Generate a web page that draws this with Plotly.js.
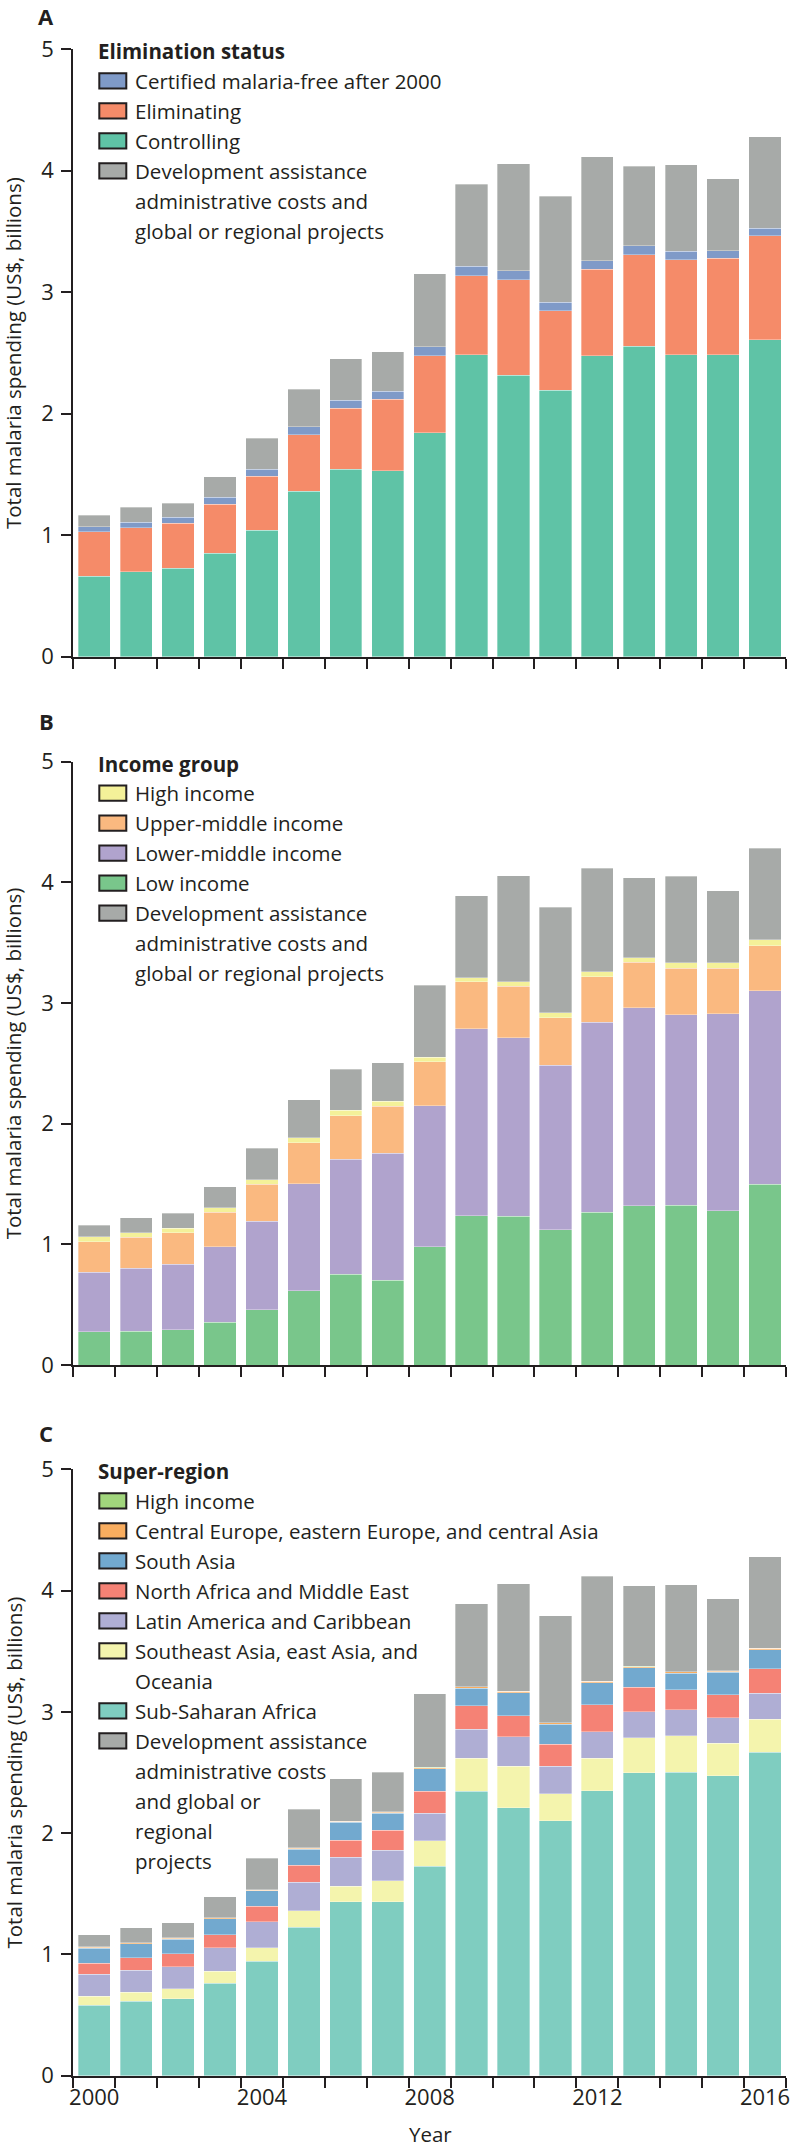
<!DOCTYPE html>
<html>
<head>
<meta charset="utf-8">
<script src="https://cdn.plot.ly/plotly-3.0.1.min.js"></script>
<style>
  html, body { margin: 0; padding: 0; background: #ffffff; }
  #chart { width: 790px; height: 2149px; }
</style>
</head>
<body>
<div id="chart"></div>
<script>
// ---------------- DATA (US$ billions) ----------------
const years = [2000, 2001, 2002, 2003, 2004, 2005, 2006, 2007, 2008, 2009, 2010, 2011, 2012, 2013, 2014, 2015, 2016];
const xTickYears = [2000, 2004, 2008, 2012, 2016];
const yTicks = [0, 1, 2, 3, 4, 5];

// Panel A: elimination status
const elimControlling = [0.664, 0.700, 0.727, 0.853, 1.043, 1.361, 1.545, 1.532, 1.843, 2.485, 2.317, 2.192, 2.479, 2.556, 2.485, 2.485, 2.611];
const elimEliminating = [0.365, 0.362, 0.371, 0.404, 0.444, 0.466, 0.502, 0.586, 0.636, 0.649, 0.784, 0.655, 0.710, 0.753, 0.781, 0.793, 0.854];
const elimCertified   = [0.041, 0.044, 0.049, 0.057, 0.058, 0.066, 0.066, 0.067, 0.071, 0.080, 0.076, 0.070, 0.071, 0.073, 0.070, 0.065, 0.064];
const elimDevAssist   = [0.096, 0.124, 0.115, 0.167, 0.252, 0.310, 0.340, 0.325, 0.603, 0.676, 0.879, 0.875, 0.857, 0.655, 0.714, 0.593, 0.753];

// Panel B: income group
const incLow         = [0.274, 0.279, 0.293, 0.356, 0.458, 0.614, 0.753, 0.704, 0.979, 1.238, 1.232, 1.121, 1.265, 1.318, 1.324, 1.279, 1.500];
const incLowerMiddle = [0.493, 0.524, 0.543, 0.625, 0.734, 0.887, 0.951, 1.049, 1.168, 1.547, 1.480, 1.364, 1.576, 1.641, 1.579, 1.633, 1.600];
const incUpperMiddle = [0.255, 0.257, 0.260, 0.285, 0.304, 0.340, 0.362, 0.392, 0.368, 0.391, 0.429, 0.391, 0.377, 0.379, 0.385, 0.376, 0.376];
const incHigh        = [0.041, 0.036, 0.038, 0.038, 0.041, 0.041, 0.044, 0.039, 0.035, 0.033, 0.035, 0.042, 0.041, 0.038, 0.044, 0.047, 0.048];
const incDevAssist   = [0.096, 0.123, 0.124, 0.175, 0.258, 0.318, 0.342, 0.323, 0.597, 0.679, 0.880, 0.876, 0.859, 0.662, 0.718, 0.597, 0.758];

// Panel C: super-region
const regSubSaharan    = [0.581, 0.614, 0.636, 0.764, 0.942, 1.225, 1.436, 1.436, 1.726, 2.347, 2.211, 2.104, 2.350, 2.498, 2.502, 2.473, 2.669];
const regSoutheastAsia = [0.074, 0.074, 0.079, 0.096, 0.113, 0.134, 0.126, 0.172, 0.211, 0.271, 0.341, 0.221, 0.268, 0.287, 0.299, 0.268, 0.271];
const regLatinAmerica  = [0.183, 0.183, 0.184, 0.195, 0.216, 0.238, 0.238, 0.252, 0.227, 0.240, 0.243, 0.227, 0.218, 0.218, 0.218, 0.212, 0.215];
const regNorthAfrica   = [0.091, 0.102, 0.106, 0.109, 0.126, 0.140, 0.142, 0.162, 0.180, 0.192, 0.173, 0.183, 0.221, 0.202, 0.164, 0.189, 0.201];
const regSouthAsia     = [0.123, 0.115, 0.121, 0.129, 0.126, 0.131, 0.148, 0.142, 0.186, 0.146, 0.190, 0.164, 0.183, 0.158, 0.136, 0.183, 0.158];
const regCentralEurope = [0.008, 0.008, 0.008, 0.008, 0.008, 0.008, 0.008, 0.009, 0.010, 0.010, 0.010, 0.010, 0.011, 0.010, 0.010, 0.010, 0.010];
const regHighIncome    = [0.002, 0.002, 0.002, 0.002, 0.002, 0.002, 0.002, 0.002, 0.002, 0.002, 0.002, 0.002, 0.002, 0.002, 0.002, 0.002, 0.002];
const regDevAssist     = [0.100, 0.124, 0.124, 0.171, 0.259, 0.319, 0.349, 0.326, 0.609, 0.682, 0.887, 0.881, 0.864, 0.663, 0.719, 0.594, 0.755];

// ---------------- STYLE ----------------
const FONT = 'Open Sans, Liberation Sans, sans-serif';
const INK = '#231f20';
const GRAY = '#a7aaa8';
const W = 790, H = 2149;
const px = v => v / W;
const py = v => 1 - v / H;
const TXT = 20.5;
const TICK = 22;

const devLabel = 'Development assistance';

const panels = [
  {
    letter: 'A', title: 'Elimination status', zeroPx: 656.7, fivePx: 49.3, letterY: 16,
    series: [ // bottom to top
      {name: 'Controlling', values: elimControlling, color: '#5fc3a6'},
      {name: 'Eliminating', values: elimEliminating, color: '#f58b69'},
      {name: 'Certified malaria-free after 2000', values: elimCertified, color: '#7f9ac8'},
      {name: devLabel, values: elimDevAssist, color: GRAY}
    ],
    legendOrder: [2, 1, 0, 3],
    devLines: ['Development assistance', 'administrative costs and', 'global or regional projects']
  },
  {
    letter: 'B', title: 'Income group', zeroPx: 1365, fivePx: 761.7, letterY: 721,
    series: [
      {name: 'Low income', values: incLow, color: '#79c68b'},
      {name: 'Lower-middle income', values: incLowerMiddle, color: '#b0a3cd'},
      {name: 'Upper-middle income', values: incUpperMiddle, color: '#fab980'},
      {name: 'High income', values: incHigh, color: '#f4f199'},
      {name: devLabel, values: incDevAssist, color: GRAY}
    ],
    legendOrder: [3, 2, 1, 0, 4],
    devLines: ['Development assistance', 'administrative costs and', 'global or regional projects']
  },
  {
    letter: 'C', title: 'Super-region', zeroPx: 2075.7, fivePx: 1469.3, letterY: 1433,
    series: [
      {name: 'Sub-Saharan Africa', values: regSubSaharan, color: '#7fcdc0'},
      {name: 'Southeast Asia, east Asia, and', values: regSoutheastAsia, color: '#f4f4ad', extra: ['Oceania']},
      {name: 'Latin America and Caribbean', values: regLatinAmerica, color: '#afaed4'},
      {name: 'North Africa and Middle East', values: regNorthAfrica, color: '#f58275'},
      {name: 'South Asia', values: regSouthAsia, color: '#72a9cf'},
      {name: 'Central Europe, eastern Europe, and central Asia', values: regCentralEurope, color: '#f9ad5f'},
      {name: 'High income', values: regHighIncome, color: '#a1d57c'},
      {name: devLabel, values: regDevAssist, color: GRAY}
    ],
    legendOrder: [6, 5, 4, 3, 2, 1, 0, 7],
    devLines: ['Development assistance', 'administrative costs', 'and global or', 'regional', 'projects']
  }
];

const traces = [];
const annotations = [];
const shapes = [];
const layout = {
  width: W, height: H,
  margin: {l: 0, r: 0, t: 0, b: 0, pad: 0},
  paper_bgcolor: '#ffffff', plot_bgcolor: '#ffffff',
  barmode: 'stack', bargap: 0.23,
  showlegend: false,
  font: {family: FONT, size: TXT, color: INK}
};

const xDomain = [px(73.3), px(786)];

panels.forEach((p, i) => {
  const n = i === 0 ? '' : String(i + 1);
  const xKey = 'x' + n, yKey = 'y' + n;
  p.series.forEach(s => {
    traces.push({
      type: 'bar', x: years, y: s.values, name: s.name,
      xaxis: xKey, yaxis: yKey,
      marker: {color: s.color, line: {color: 'rgba(255,255,255,0.55)', width: 0.6}},
      hoverinfo: 'x+y+name'
    });
  });
  const isLast = i === panels.length - 1;
  layout['xaxis' + n] = {
    domain: xDomain, anchor: yKey,
    range: [1999.5, 2016.5], fixedrange: true,
    showline: true, linecolor: INK, linewidth: 2,
    showgrid: false, zeroline: false,
    tickmode: 'array', tickvals: xTickYears, ticktext: xTickYears.map(String),
    ticks: 'outside', ticklen: 1, tickcolor: 'rgba(0,0,0,0)',
    showticklabels: isLast, ticklabeloverflow: 'allow',
    tickfont: {family: FONT, size: TICK, color: INK},
    minor: {ticks: 'outside', ticklen: 10, tickwidth: 2, tickcolor: INK,
            tickmode: 'linear', tick0: 1999.5, dtick: 1, showgrid: false}
  };
  layout['yaxis' + n] = {
    domain: [py(p.zeroPx), py(p.fivePx)], anchor: xKey,
    range: [0, 5], fixedrange: true,
    showline: true, linecolor: INK, linewidth: 2,
    showgrid: false, zeroline: false,
    tickmode: 'array', tickvals: yTicks, ticktext: yTicks.map(String),
    ticks: 'outside', ticklen: 10, tickwidth: 2, tickcolor: INK,
    ticklabelstandoff: 3,
    tickfont: {family: FONT, size: TICK, color: INK}
  };

  // Panel letter
  annotations.push({
    xref: 'paper', yref: 'paper', x: px(46), y: py(p.letterY),
    xanchor: 'center', yanchor: 'middle', showarrow: false, borderpad: 0,
    text: '<b>' + p.letter + '</b>', font: {family: FONT, size: 22, color: INK}
  });
  // Y-axis title
  annotations.push({
    xref: 'paper', yref: 'paper', x: px(13), y: py((p.zeroPx + p.fivePx) / 2),
    xanchor: 'center', yanchor: 'middle', showarrow: false, textangle: -90,
    text: 'Total malaria spending (US$, billions)', font: {family: FONT, size: TXT, color: INK}
  });

  // Legend (drawn manually)
  const titleY = p.fivePx + 2;
  annotations.push({
    xref: 'paper', yref: 'paper', x: px(96), y: py(titleY),
    xanchor: 'left', yanchor: 'middle', showarrow: false,
    text: '<b>' + p.title + '</b>', font: {family: FONT, size: TXT, color: INK}
  });
  let line = 1;
  const rowY = k => titleY + 30 * k - 0.5;
  p.legendOrder.forEach(idx => {
    const s = p.series[idx];
    const y = rowY(line);
    shapes.push({
      type: 'rect', xref: 'paper', yref: 'paper',
      x0: px(99.3), x1: px(126.3), y0: py(y + 7.6), y1: py(y - 7.6),
      fillcolor: s.color, line: {color: INK, width: 2}
    });
    const lines = s.name === devLabel ? p.devLines : [s.name].concat(s.extra || []);
    lines.forEach((t, j) => {
      annotations.push({
        xref: 'paper', yref: 'paper', x: px(133), y: py(rowY(line + j)),
        xanchor: 'left', yanchor: 'middle', showarrow: false,
        text: t, font: {family: FONT, size: TXT, color: INK}
      });
    });
    line += lines.length;
  });
});

// X-axis title
annotations.push({
  xref: 'paper', yref: 'paper', x: px(430), y: 0,
  xanchor: 'center', yanchor: 'bottom', showarrow: false, borderpad: 0,
  text: 'Year', font: {family: FONT, size: TXT, color: INK}
});

layout.annotations = annotations;
layout.shapes = shapes;

Plotly.newPlot('chart', traces, layout, {staticPlot: true, displayModeBar: false});
</script>
</body>
</html>
